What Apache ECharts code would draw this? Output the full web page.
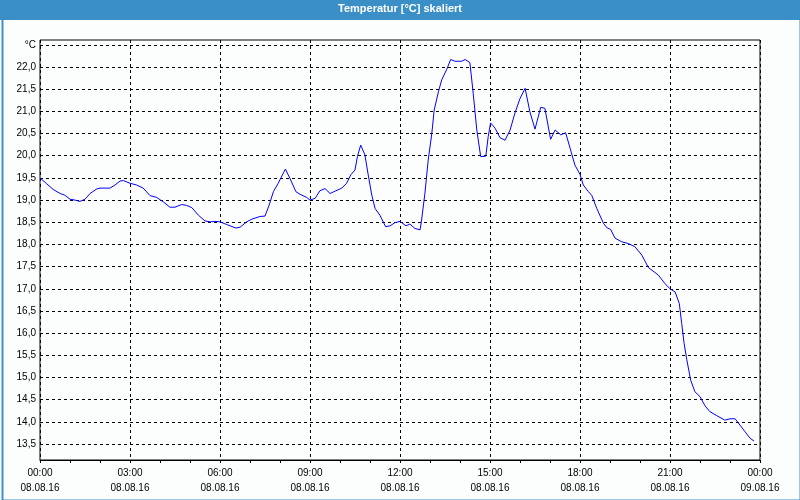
<!DOCTYPE html>
<html>
<head>
<meta charset="utf-8">
<script src="https://cdn.jsdelivr.net/npm/echarts@6/dist/echarts.min.js"></script>
<style>
html,body{margin:0;padding:0;background:#fcfefd;}
#chart{width:800px;height:500px;}
</style>
</head>
<body>
<div id="chart"></div>
<script>
// Time of day in hours since 08.08.16 00:00
var hours = [0.0,0.22,0.44,0.67,0.83,1.0,1.17,1.33,1.5,1.67,1.89,2.0,2.33,2.5,2.67,2.78,3.0,3.22,3.44,3.67,3.89,4.11,4.33,4.5,4.72,4.89,5.06,5.28,5.5,5.67,5.83,
  6.0,6.22,6.53,6.67,6.89,7.06,7.33,7.5,7.64,7.78,7.94,8.18,8.33,8.53,8.67,8.89,9.0,9.17,9.33,9.5,9.67,9.83,10.06,10.22,10.36,10.5,10.58,10.69,10.83,10.94,11.06,11.17,11.33,11.52,11.67,11.83,
  12.0,12.2,12.33,12.5,12.67,12.72,12.83,12.94,13.06,13.14,13.28,13.39,13.56,13.69,13.83,14.06,14.17,14.33,14.44,14.56,14.69,14.86,14.94,15.02,15.17,15.33,15.5,15.67,15.83,16.0,16.17,16.33,16.5,16.69,16.83,17.02,17.17,17.36,17.52,17.67,17.83,
  18.0,18.11,18.28,18.39,18.56,18.78,18.89,19.02,19.17,19.39,19.61,19.83,20.06,20.28,20.61,20.83,21.0,21.17,21.31,21.39,21.47,21.56,21.69,21.83,22.0,22.17,22.33,22.56,22.83,23.0,23.17,23.33,23.5,23.67,23.8];
// Temperature in °C
var temps = [19.5,19.37,19.24,19.15,19.11,19.02,19.0,18.97,19.02,19.15,19.25,19.27,19.27,19.34,19.43,19.44,19.38,19.34,19.27,19.1,19.06,18.96,18.84,18.84,18.9,18.88,18.83,18.66,18.53,18.51,18.52,
  18.51,18.45,18.37,18.39,18.51,18.57,18.63,18.64,18.89,19.19,19.38,19.7,19.49,19.19,19.13,19.06,19.0,19.04,19.21,19.26,19.15,19.2,19.27,19.38,19.57,19.68,19.98,20.24,20.02,19.57,19.11,18.81,18.66,18.4,18.42,18.49,
  18.52,18.42,18.46,18.36,18.33,18.55,19.15,19.9,20.5,21.03,21.44,21.71,21.95,22.17,22.13,22.13,22.17,22.1,21.41,20.58,19.98,19.99,20.43,20.74,20.62,20.41,20.35,20.58,20.96,21.29,21.52,20.99,20.6,21.09,21.07,20.37,20.58,20.47,20.52,20.17,19.79,
  19.58,19.34,19.19,19.11,18.81,18.48,18.38,18.34,18.14,18.06,18.02,17.95,17.76,17.48,17.31,17.12,17.0,16.93,16.67,16.22,15.77,15.4,14.94,14.68,14.57,14.36,14.23,14.14,14.04,14.07,14.07,13.93,13.78,13.63,13.57];

var yTicks = [13.5,14.0,14.5,15.0,15.5,16.0,16.5,17.0,17.5,18.0,18.5,19.0,19.5,20.0,20.5,21.0,21.5,22.0,22.5];
var timeLabels = ['00:00','03:00','06:00','09:00','12:00','15:00','18:00','21:00','00:00'];
var dateLabels = ['08.08.16','08.08.16','08.08.16','08.08.16','08.08.16','08.08.16','08.08.16','08.08.16','09.08.16'];
var title = 'Temperatur [°C] skaliert';
var unit = '°C';

var data = hours.map(function(h, i){ return [h, temps[i]]; });
var FONT = 'Liberation Sans';

var chart = echarts.init(document.getElementById('chart'), null, {renderer:'canvas'});
chart.setOption({
  animation: false,
  backgroundColor: '#fcfefd',
  graphic: [
    {type:'rect', left:0, top:0, shape:{width:800, height:20}, style:{fill:'#3b8fc7'}, z:0},
    {type:'rect', left:0, top:0, shape:{x:1, y:1, width:798, height:498}, style:{fill:null, stroke:'#3b8fc7', lineWidth:2}, z:0}
  ],
  title: {
    text: title, left: 'center', top: 3, padding: 0,
    textStyle: {color:'#ffffff', fontFamily: FONT, fontWeight:'bold', fontSize: 11}
  },
  grid: {left:40, right:40, top:40, bottom:40, show:true, borderColor:'#000', borderWidth:1, backgroundColor:'transparent'},
  xAxis: {
    type:'value', min:0, max:24, interval:3,
    axisLine:{show:true, lineStyle:{color:'#000', width:1}},
    axisTick:{show:true, length:3, lineStyle:{color:'#000'}},
    minorTick:{show:true, splitNumber:3, length:3, lineStyle:{color:'#000'}},
    splitLine:{show:true, lineStyle:{color:'#000', type:[3,3], width:1}},
    axisLabel:{
      margin:6, color:'#000', fontFamily:FONT, fontSize:10, lineHeight:15,
      showMinLabel:true, showMaxLabel:true,
      formatter:function(v){ var i = Math.round(v/3); return timeLabels[i] + '\n' + dateLabels[i]; }
    }
  },
  yAxis: {
    type:'value', min:13.141, max:22.609,
    axisLine:{show:false},
    axisTick:{show:false, customValues: yTicks},
    splitLine:{show:true, lineStyle:{color:'#000', type:[3,3], width:1}},
    axisLabel:{
      customValues: yTicks, margin:4, color:'#000', fontFamily:FONT, fontSize:10,
      formatter:function(v){ if (Math.abs(v-22.5)<1e-6) return unit; return v.toFixed(1).replace('.', ','); }
    }
  },
  series: [{
    type:'line', data:data, showSymbol:false, symbol:'none',
    lineStyle:{color:'#0000ff', width:1}, itemStyle:{color:'#0000ff'}, z:3
  }]
});
</script>
</body>
</html>
